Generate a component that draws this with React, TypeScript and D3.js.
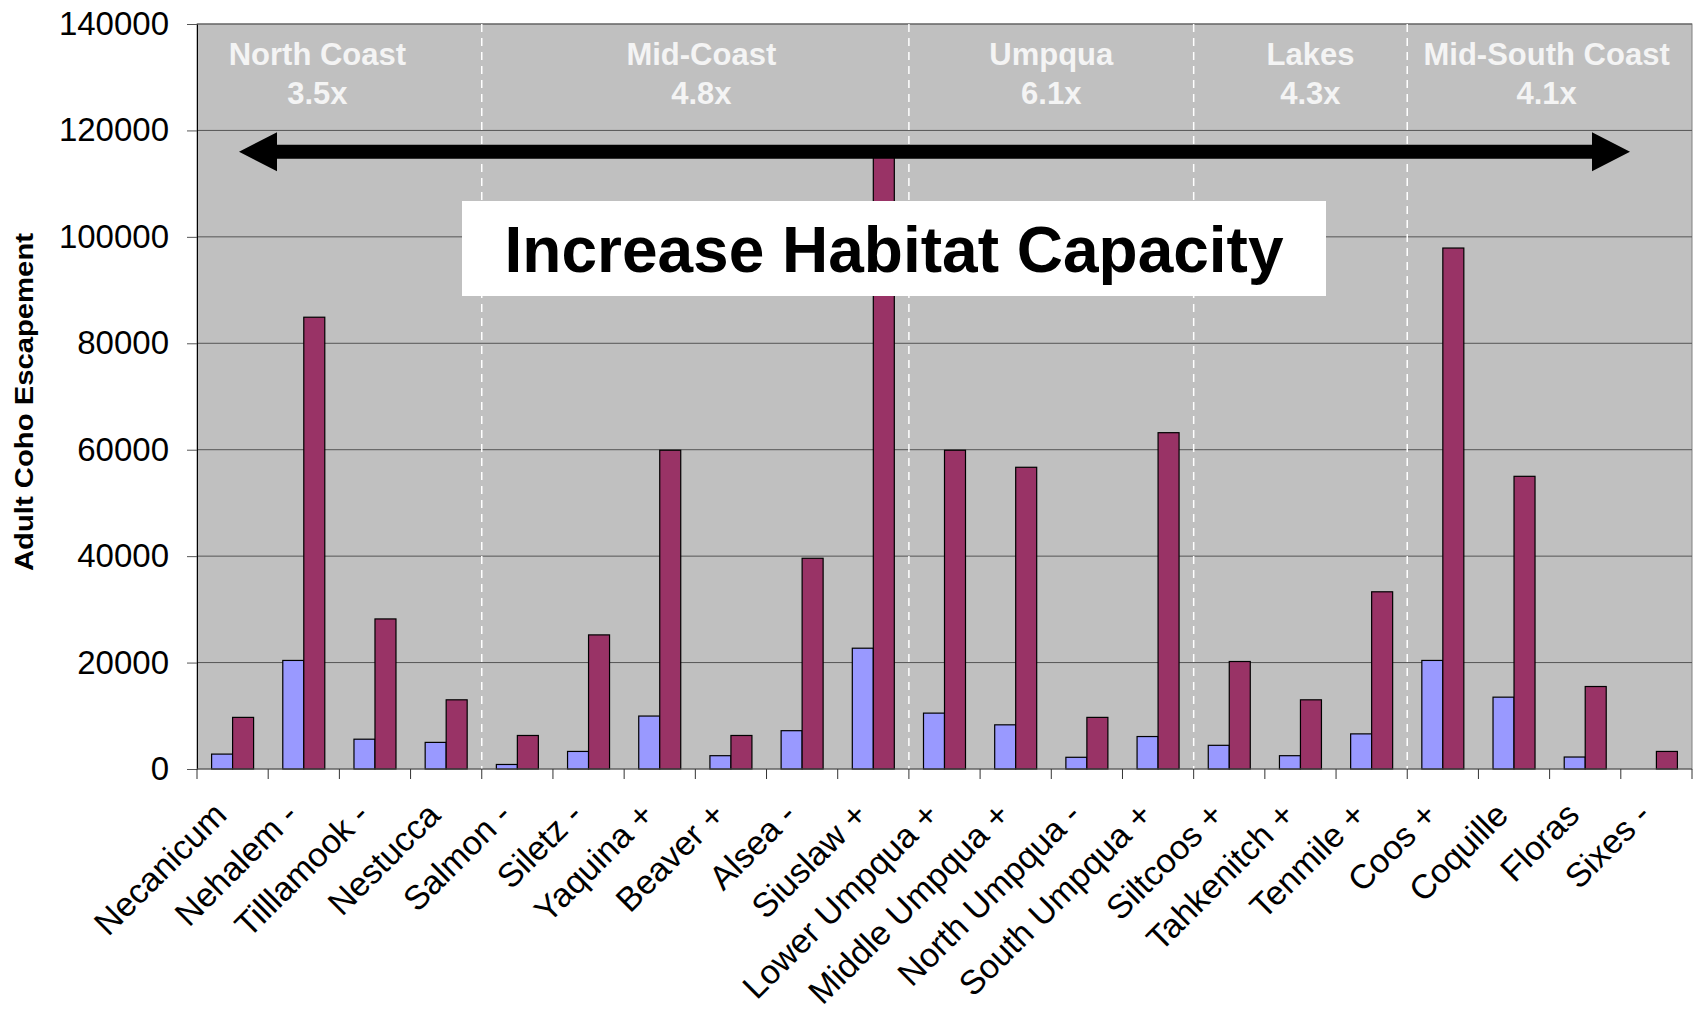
import React, { useEffect, useRef } from "react";
import * as d3 from "d3";

// river populations along the Oregon coast
const rivers = [
  "Necanicum", "Nehalem -", "Tilllamook -", "Nestucca", "Salmon -", "Siletz -",
  "Yaquina +", "Beaver +", "Alsea -", "Siuslaw +", "Lower Umpqua +", "Middle Umpqua +",
  "North Umpqua -", "South Umpqua +", "Siltcoos +", "Tahkenitch +", "Tenmile +",
  "Coos +", "Coquille", "Floras", "Sixes -",
];
// blue bars
const current = [
  2800, 20400, 5600, 5000, 850, 3300, 9950, 2500, 7200, 22700, 10500, 8300,
  2200, 6100, 4450, 2500, 6600, 20400, 13500, 2250, 0,
];
// red bars
const capacity = [
  9700, 84900, 28200, 13000, 6300, 25200, 59900, 6300, 39600, 117000, 59900, 56700,
  9700, 63200, 20200, 13000, 33300, 97900, 55000, 15500, 3300,
];
const yTicks = [0, 20000, 40000, 60000, 80000, 100000, 120000, 140000];

const regionNames = ["North Coast", "Mid-Coast", "Umpqua", "Lakes", "Mid-South Coast"];
const regionFactors = ["3.5x", "4.8x", "6.1x", "4.3x", "4.1x"];
const regionFirst = ["Necanicum", "Salmon -", "Lower Umpqua +", "Siltcoos +", "Coos +"];
const regionLast = ["Nestucca", "Siuslaw +", "South Umpqua +", "Tenmile +", "Sixes -"];

const arrowLevel = 116000;

export default function App() {
  const ref = useRef<SVGSVGElement>(null);
  const width = 1696;
  const height = 1013;
  const left = 197, right = 1692, top = 24, bottom = 769;
  const font = "'Liberation Sans', Arial, sans-serif";
  // text boxes were placed by hand in the original, not exactly centred
  const labelNudge = [-22, 6, 0, 10, -3];

  useEffect(() => {
    const svg = d3.select(ref.current);
    svg.selectAll("*").remove();

    const y = d3.scaleLinear().domain([0, 140000]).range([bottom, top]);
    const x0 = d3.scaleBand().domain(rivers).range([left, right]);
    const x1 = d3.scaleBand().domain(["current", "capacity"])
      .range([0, x0.bandwidth()]).paddingInner(0).paddingOuter(0.695);

    // plot area
    svg.append("rect")
      .attr("x", left).attr("y", top)
      .attr("width", right - left).attr("height", bottom - top)
      .attr("fill", "#c0c0c0").attr("stroke", "#808080");

    svg.append("g").selectAll("line").data(yTicks.slice(1)).enter().append("line")
      .attr("x1", left).attr("x2", right)
      .attr("y1", d => y(d)).attr("y2", d => y(d))
      .attr("stroke", "#555").attr("stroke-width", 1);

    // region dividers
    const dividers = regionFirst.slice(1).map(r => x0(r) as number);
    svg.append("g").selectAll("line").data(dividers).enter().append("line")
      .attr("x1", d => d).attr("x2", d => d)
      .attr("y1", top).attr("y2", bottom)
      .attr("stroke", "#fff").attr("stroke-width", 1.5)
      .attr("stroke-dasharray", "8,6");

    // region labels
    const labels = svg.append("g")
      .attr("font-family", font).attr("font-weight", "bold")
      .attr("font-size", 31).attr("fill", "#f4f4f4").attr("text-anchor", "middle");
    regionNames.forEach((name, i) => {
      const a = x0(regionFirst[i]) as number;
      const b = (x0(regionLast[i]) as number) + x0.bandwidth();
      const cx = (a + b) / 2 + labelNudge[i];
      labels.append("text").attr("x", cx).attr("y", 65).text(name);
      labels.append("text").attr("x", cx).attr("y", 104).text(regionFactors[i]);
    });

    // bars
    const groups = svg.append("g").selectAll("g").data(rivers).enter().append("g")
      .attr("transform", d => "translate(" + x0(d) + ",0)");
    groups.append("rect")
      .attr("x", x1("current") as number).attr("width", x1.bandwidth())
      .attr("y", (d, i) => y(current[i]))
      .attr("height", (d, i) => bottom - y(current[i]))
      .attr("fill", "#9999ff").attr("stroke", "#000").attr("stroke-width", 1.2)
      .style("display", (d, i) => current[i] > 0 ? null : "none");
    groups.append("rect")
      .attr("x", x1("capacity") as number).attr("width", x1.bandwidth())
      .attr("y", (d, i) => y(capacity[i]))
      .attr("height", (d, i) => bottom - y(capacity[i]))
      .attr("fill", "#993366").attr("stroke", "#000").attr("stroke-width", 1.2);

    // callout box
    svg.append("rect")
      .attr("x", 462).attr("y", 201).attr("width", 864).attr("height", 95)
      .attr("fill", "#fff");
    svg.append("text")
      .attr("x", 894).attr("y", 272)
      .attr("text-anchor", "middle")
      .attr("font-family", font).attr("font-weight", "bold").attr("font-size", 64)
      .text("Increase Habitat Capacity");

    // double arrow
    const ay = y(arrowLevel);
    const lx = left + 42, rx = right - 62, head = 38, hh = 19.5, sh = 7;
    svg.append("path")
      .attr("d", [
        "M", lx, ay,
        "L", lx + head, ay - hh, "L", lx + head, ay - sh,
        "L", rx - head, ay - sh, "L", rx - head, ay - hh,
        "L", rx, ay,
        "L", rx - head, ay + hh, "L", rx - head, ay + sh,
        "L", lx + head, ay + sh, "L", lx + head, ay + hh, "Z",
      ].join(" "))
      .attr("fill", "#000");

    // y axis
    const yAxis = svg.append("g")
      .attr("transform", "translate(" + left + ",0)")
      .call(d3.axisLeft(y).tickValues(yTicks).tickSize(10).tickSizeOuter(0)
        .tickPadding(18).tickFormat(d3.format("d")));
    yAxis.select(".domain").attr("stroke", "#000");
    yAxis.selectAll(".tick line").attr("stroke", "#555");
    yAxis.selectAll("text")
      .attr("font-family", font).attr("font-size", 33).attr("fill", "#000");

    // x axis
    svg.append("line")
      .attr("x1", left).attr("x2", right).attr("y1", bottom).attr("y2", bottom)
      .attr("stroke", "#555");
    const edges = rivers.map(r => x0(r) as number).concat([right]);
    svg.append("g").selectAll("line").data(edges).enter().append("line")
      .attr("x1", d => d).attr("x2", d => d)
      .attr("y1", bottom).attr("y2", bottom + 10)
      .attr("stroke", "#333");
    svg.append("g").selectAll("text").data(rivers).enter().append("text")
      .attr("transform", d => "translate(" + ((x0(d) as number) + x0.bandwidth() / 2 - 4) + "," + (bottom + 48) + ") rotate(-45)")
      .attr("text-anchor", "end")
      .attr("font-family", font).attr("font-size", 34)
      .text(d => d);

    // y title
    svg.append("text")
      .attr("transform", "translate(33,402) rotate(-90)")
      .attr("text-anchor", "middle")
      .attr("font-family", font).attr("font-weight", "bold").attr("font-size", 25)
      .attr("textLength", 338).attr("lengthAdjust", "spacingAndGlyphs")
      .text("Adult Coho Escapement");
  }, []);

  return (
    <div className="App">
      <svg ref={ref} width={width} height={height}
        style={{ position: "absolute", left: 0, top: 0, background: "#fff" }} />
    </div>
  );
}
